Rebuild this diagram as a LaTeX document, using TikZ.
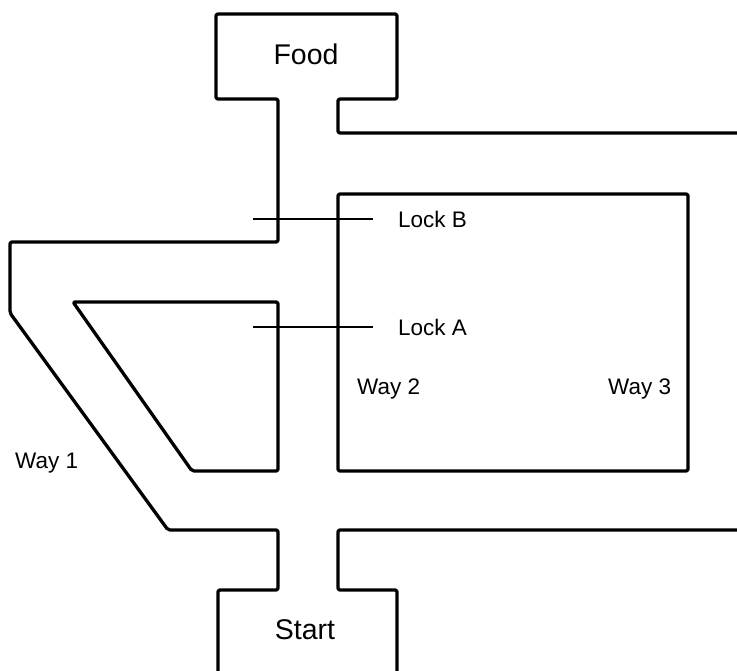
\documentclass[tikz,border=0pt]{standalone}
\usepackage{fontspec}
\setmainfont{Liberation Sans}
\begin{document}
\begin{tikzpicture}[x=1pt,y=-1pt,
  wall/.style={line width=3.3pt,rounded corners=2pt,line join=round},
  lockline/.style={line width=2pt},
  big/.style={font=\fontsize{28.5}{30}\selectfont,inner sep=0pt},
  lbl/.style={font=\fontsize{22.5}{24}\selectfont,inner sep=0pt,anchor=west}]
\useasboundingbox (0,0) rectangle (737,671);
\fill[white] (0,0) rectangle (737,671);
% outer left wall with Food box
\draw[wall] (740,133) -- (338,133) -- (338,99) -- (397,99) -- (397,14) -- (216,14)
  -- (216,99) -- (278,99) -- (278,242) -- (10,242) -- (10,313) -- (168,530)
  -- (278,530) -- (278,590) -- (218,590) -- (218,675);
% inner trapezoid
\draw[wall] (73,302) -- (278,302) -- (278,471) -- (192,471) -- cycle;
% big box
\draw[wall] (338,194) rectangle (688,471);
% bottom right wall with Start box
\draw[wall] (740,530) -- (338,530) -- (338,590) -- (397,590) -- (397,675);
% locks
\coordinate (lbl1) at (253,219);
\coordinate (lbr1) at (373,219);
\coordinate (lal1) at (253,327);
\coordinate (lar1) at (373,327);
\draw[lockline] (lbl1) -- (lbr1);
\draw[lockline] (lal1) -- (lar1);
% labels
\node[big] (food) at (306,54) {Food};
\node[big] (start) at (305,630) {Start};
\node[lbl] (lockb) at (398,219) {Lock B};
\node[lbl] (locka) at (398,327) {Lock A};
\node[lbl] (way2) at (357,389) {Way 2};
\node[lbl] (way3) at (608,389) {Way 3};
\node[lbl] (way1) at (15,463) {Way 1};
\end{tikzpicture}
\end{document}
